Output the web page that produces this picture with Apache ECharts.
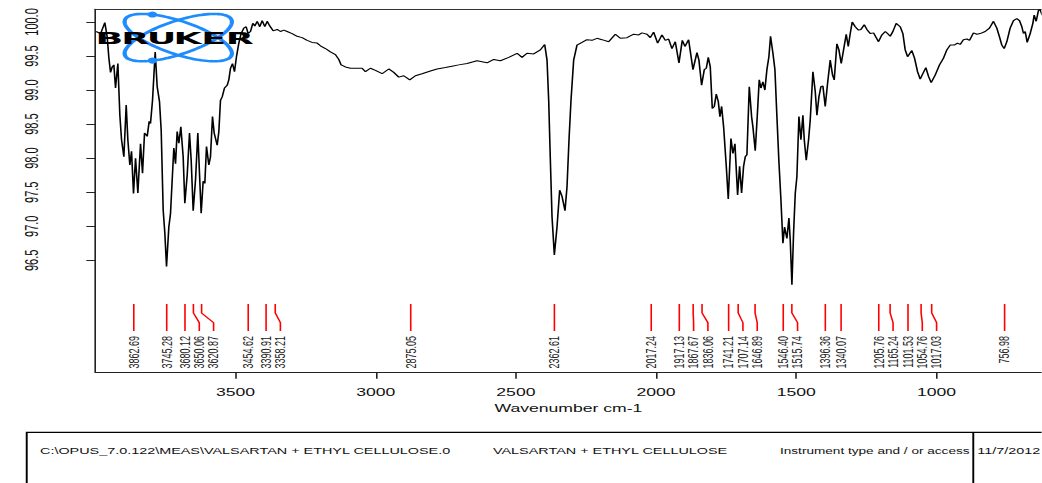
<!DOCTYPE html>
<html>
<head>
<meta charset="utf-8">
<script src="https://cdn.jsdelivr.net/npm/echarts/dist/echarts.min.js"></script>
<style>
html,body{margin:0;padding:0;overflow:hidden;background:#fff;width:1042px;height:483px;}
/* the reference printout is stretched horizontally; draw at 1/1.6 width and stretch */
#main{width:651.25px;height:483px;transform:scaleX(1.6);transform-origin:0 0;}
</style>
</head>
<body>
<div id="main"></div>
<script>
// ---------------- data ----------------
const wavenumber = [
  3997, 3981, 3966, 3957.5, 3951.6, 3945.7, 3939.7, 3933.8, 3927.9, 3919.5,
  3912.4, 3906.4, 3898.1, 3889.8, 3883.9, 3876.8, 3870.8, 3863.7, 3856.5, 3848.2,
  3838.7, 3831.6, 3824.4, 3814.9, 3807.8, 3803.1, 3795.9, 3791.2, 3786.4, 3779.3,
  3771.0, 3765.0, 3757.9, 3752.0, 3746.0, 3737.7, 3731.7, 3725.8, 3719.9, 3713.9,
  3708.0, 3702.0, 3694.9, 3686.6, 3680.7, 3672.3, 3664.0, 3658.0, 3650.9, 3642.6,
  3634.3, 3628.4, 3622.4, 3615.3, 3609.4, 3603.4, 3595.1, 3589.2, 3582.0, 3576.0,
  3571.3, 3565.3, 3559.4, 3553.5, 3547.5, 3539.2, 3529.7, 3523.8, 3517.8, 3510.7,
  3503.6, 3496.5, 3488.1, 3479.8, 3470.3, 3462.0, 3454.8, 3446.5, 3438.2, 3431.1,
  3422.8, 3413.3, 3404.9, 3395.4, 3387.1, 3377.6, 3365.6, 3351.4, 3339.6, 3327.7,
  3315.8, 3298.0, 3280.1, 3262.3, 3244.5, 3226.7, 3208.9, 3197.0, 3179.2, 3161.4,
  3143.5, 3131.7, 3123.3, 3107.9,
  3090, 3066.3, 3048.4, 3036.6, 3018.7, 3000.9, 2977.1, 2953.4, 2935.5, 2917.7,
  2899.9, 2878.5, 2858.3, 2834.5, 2804.8, 2781.1, 2751.4, 2727.6, 2703.8, 2674.1,
  2638.5, 2602.8, 2578.9, 2555.3, 2525.4, 2495.6, 2478.0, 2460.2, 2436.5, 2412.7,
  2397.2, 2388.9, 2383.0, 2377.0, 2371.1, 2362.8, 2353.3, 2343.8, 2335.4, 2324.8,
  2317.6, 2310.5, 2303.4, 2293.9, 2282.0, 2264.2, 2246.4, 2228.5, 2210.7, 2192.9,
  2169.1, 2145.3, 2127.5,
  2103.7, 2079.9, 2062.1, 2050.2, 2032.4, 2020.6, 2008.7, 1994.4, 1979.0, 1967.1,
  1955.3, 1943.4, 1931.5, 1918.4, 1906.5, 1897.0, 1883.9, 1868.4, 1854.2, 1847.1,
  1837.6, 1828.0, 1820.9, 1813.8, 1806.7, 1799.5, 1792.4, 1785.3, 1778.1, 1772.2,
  1766.2, 1759.1, 1749.6, 1742.5, 1733.0, 1725.9, 1718.7, 1709.2, 1702.1, 1695.0,
  1687.9, 1681.9, 1676.0, 1667.6, 1659.3, 1654.6, 1646.3, 1639.2, 1632.1, 1626.1,
  1619.0, 1611.9, 1604.7, 1597.6, 1591.7, 1583.2, 1576.1, 1569.0, 1561.9, 1554.7,
  1547.6, 1541.7, 1533.4, 1526.2, 1521.5, 1515.5, 1509.6, 1503.6, 1497.7, 1490.5,
  1483.4, 1476.3, 1471.5, 1464.4, 1456.1, 1450.2, 1440.6, 1432.3, 1426.3, 1419.2,
  1412.1, 1405.0, 1396.7, 1388.3, 1378.9, 1370.5, 1364.6, 1355.1, 1347.9, 1339.6,
  1331.3, 1321.8, 1314.6, 1307.5, 1300.4, 1289.7, 1277.8, 1269.5, 1257.6, 1248.1,
  1236.3, 1224.4, 1206.6, 1194.7, 1182.5,
  1174.4, 1164.9, 1155.4, 1143.6, 1129.3, 1119.8, 1111.5, 1103.1, 1087.7, 1078.2,
  1067.5, 1058.0, 1048.5, 1037.8, 1028.3, 1018.8, 1004.6, 989.1, 974.9, 963.0,
  951.1, 936.8, 925.0, 915.4, 903.6, 891.7, 882.1, 867.9, 856.0, 844.1,
  826.3, 810.9, 796.6, 784.7, 775.2, 766.9, 758.5, 749.0, 737.2, 725.3,
  713.4, 703.9, 695.5, 689.6, 683.5, 676.4, 665.8, 656.2, 651.5, 644.4,
  636.1, 630.1, 623.0
];
const transmittance = [
  99.86, 99.83, 99.99, 99.78, 99.47, 99.26, 99.34, 99.37, 99.03, 99.39,
  98.63, 98.27, 98.02, 98.78, 98.27, 97.90, 98.10, 97.48, 98.00, 97.49,
  98.21, 97.78, 98.37, 98.32, 98.54, 98.51, 98.85, 99.20, 99.56, 99.05,
  98.83, 98.41, 97.24, 96.90, 96.41, 96.99, 97.19, 97.68, 98.15, 97.92,
  98.39, 98.22, 98.46, 98.02, 97.34, 97.75, 98.37, 97.97, 97.23, 97.68,
  98.37, 97.78, 97.19, 97.66, 97.63, 98.17, 97.90, 98.02, 98.61, 98.37,
  98.29, 98.19, 98.39, 98.85, 98.90, 99.03, 99.07, 99.15, 99.32, 99.39,
  99.27, 99.49, 99.69, 99.83, 99.91, 99.93, 99.83, 99.86, 99.98, 99.94,
  100.01, 99.93, 100.02, 99.93, 100.01, 99.94, 99.87, 99.89, 99.86, 99.88,
  99.86, 99.83, 99.79, 99.77, 99.73, 99.70, 99.69, 99.65, 99.61, 99.56,
  99.52, 99.45, 99.37, 99.34,
  99.32, 99.32, 99.32, 99.27, 99.32, 99.29, 99.24, 99.31, 99.26, 99.19,
  99.21, 99.15, 99.21, 99.24, 99.28, 99.31, 99.33, 99.35, 99.37, 99.39,
  99.43, 99.40, 99.45, 99.43, 99.48, 99.54, 99.48, 99.54, 99.53, 99.59,
  99.67, 99.44, 98.85, 97.97, 97.14, 96.58, 96.99, 97.53, 97.44, 97.23,
  97.58, 98.27, 98.85, 99.44, 99.66, 99.70, 99.74, 99.73, 99.76, 99.74,
  99.71, 99.82, 99.76,
  99.77, 99.82, 99.81, 99.84, 99.82, 99.77, 99.85, 99.69, 99.81, 99.73,
  99.75, 99.61, 99.71, 99.40, 99.73, 99.64, 99.74, 99.30, 99.55, 99.44,
  99.07, 99.30, 99.32, 99.48, 99.34, 98.73, 98.76, 98.94, 98.83, 98.61,
  98.76, 98.46, 97.88, 97.40, 98.29, 98.07, 98.21, 97.46, 97.88, 97.49,
  97.88, 98.02, 98.05, 99.05, 98.61, 98.46, 98.11, 98.61, 99.15, 99.03,
  99.12, 99.00, 99.30, 99.49, 99.79, 99.54, 99.30, 98.61, 97.95, 97.39,
  96.75, 96.99, 96.82, 97.12, 96.80, 96.14, 96.90, 97.48, 97.73, 98.61,
  98.27, 98.63, 98.27, 97.97, 98.27, 98.56, 99.27, 98.98, 98.63, 98.90,
  99.05, 99.06, 98.76, 99.10, 99.44, 99.22, 99.15, 99.68, 99.59, 99.39,
  99.59, 99.82, 99.64, 99.83, 100.00, 99.93, 99.88, 99.89, 99.96, 99.89,
  99.83, 99.84, 99.71, 99.81, 99.86,
  99.83, 99.79, 99.86, 99.98, 99.93, 99.83, 99.59, 99.49, 99.58, 99.47,
  99.27, 99.16, 99.24, 99.33, 99.20, 99.11, 99.22, 99.37, 99.47, 99.59,
  99.66, 99.66, 99.69, 99.67, 99.74, 99.75, 99.73, 99.84, 99.82, 99.83,
  99.86, 99.91, 100.01, 99.91, 99.78, 99.66, 99.61, 99.71, 99.91, 100.02,
  100.05, 100.02, 99.93, 99.83, 99.86, 99.70, 99.83, 99.98, 100.10, 100.01,
  100.17, 100.18, 100.10
];
const peakWavenumbers = [
  3862.69, 3745.28, 3680.12, 3650.06, 3620.87, 3454.62, 3390.91, 3358.21,
  2875.05, 2362.61, 2017.24, 1917.13, 1867.67, 1836.06, 1741.21, 1707.14,
  1646.89, 1546.40, 1515.74, 1396.36, 1340.07, 1205.76, 1165.24, 1101.53,
  1054.76, 1017.03, 756.98
];
const xTickValues = [3500, 3000, 2500, 2000, 1500, 1000];
const yTickValues = [96.5, 97.0, 97.5, 98.0, 98.5, 99.0, 99.5, 100.0];
const footerTexts = [
  'C:\\OPUS_7.0.122\\MEAS\\VALSARTAN + ETHYL CELLULOSE.0',
  'VALSARTAN + ETHYL CELLULOSE',
  'Instrument type and / or access',
  '11/7/2012'
];
const logoLetters = ['B', 'R', 'U', 'K', 'E', 'R'];

// ---------------- layout / style ----------------
const X_MIN = 625, X_MAX = 4000, Y_MIN = 94.856, Y_MAX = 100.186;
const FONT = '"Liberation Sans", Arial, Helvetica, sans-serif';
const LABEL_GAP = 8.94;   // min spacing of peak labels (unstretched px)

const spectrum = wavenumber.map((w, i) => [w, transmittance[i]]);

// Bruker logo geometry (decoration)
const LOGO = { cx: 111.4, cy: 37.6, a: 38, b: 15.5, phi: 31 * Math.PI / 180, dotDx: -16 };
function ellipsePt(t) {
  const c = Math.cos(LOGO.phi), s = Math.sin(LOGO.phi);
  const ex = LOGO.a * Math.cos(t), ey = LOGO.b * Math.sin(t);
  return [ex * c - ey * s, ex * s + ey * c];
}
function ellipsePoints(flip) {
  const pts = [];
  for (let k = 0; k < 120; k++) {
    const p = ellipsePt(k / 120 * Math.PI * 2);
    pts.push([LOGO.cx + p[0], LOGO.cy + (flip ? -p[1] : p[1])]);
  }
  return pts;
}
function dotPoint() {
  // point on the upper arc of the ellipse at the requested horizontal offset
  let best = null;
  for (let k = 0; k < 720; k++) {
    const p = ellipsePt(k / 720 * Math.PI * 2);
    if (p[1] > 0) continue;
    if (!best || Math.abs(p[0] - LOGO.dotDx) + p[1] * 0.02 < Math.abs(best[0] - LOGO.dotDx) + best[1] * 0.02) best = p;
  }
  return best;
}
const tp = dotPoint();
const LOGO_BLUE = '#1e8cff';

const graphics = [
  { type: 'polygon', z: 100, shape: { points: ellipsePoints(false) }, style: { fill: 'none', stroke: LOGO_BLUE, lineWidth: 2.6 } },
  { type: 'polygon', z: 100, shape: { points: ellipsePoints(true) }, style: { fill: 'none', stroke: LOGO_BLUE, lineWidth: 2.6 } },
  { type: 'circle', z: 101, shape: { cx: LOGO.cx + tp[0], cy: LOGO.cy + tp[1], r: 3 }, style: { fill: LOGO_BLUE } },
  { type: 'circle', z: 101, shape: { cx: LOGO.cx + tp[0], cy: LOGO.cy - tp[1], r: 3 }, style: { fill: LOGO_BLUE } }
];
logoLetters.forEach((ch, i) => {
  graphics.push({
    type: 'text', z: 102, x: 68.3 + i * 16.3, y: 38.6, scaleX: 1.38,
    style: { text: ch, fill: '#000', align: 'center', verticalAlign: 'middle',
      font: 'bold 16.5px "DejaVu Sans", sans-serif' }
  });
});
// footer box
graphics.push({ type: 'rect', z: 50, shape: { x: 16.7, y: 432.3, width: 700, height: 100 },
  style: { fill: 'none', stroke: '#000', lineWidth: 1.2 } });
graphics.push({ type: 'line', z: 50, shape: { x1: 608.3, y1: 432.3, x2: 608.3, y2: 500 },
  style: { stroke: '#000', lineWidth: 1.2 } });
const footerX = [25, 308.1, 487.5, 610.8];
const footerSize = [9, 9, 8.5, 9];
footerTexts.forEach((t, i) => {
  graphics.push({ type: 'text', z: 51, x: footerX[i], y: 451,
    style: { text: t, fill: '#111', align: 'left', verticalAlign: 'middle',
      fontSize: footerSize[i], fontFamily: FONT } });
});

const chart = echarts.init(document.getElementById('main'), null, { renderer: 'svg' });
chart.setOption({
  animation: false,
  backgroundColor: '#fff',
  grid: { left: 59.56, top: 9.3, right: 0, bottom: 110.7, show: false, containLabel: false, outerBoundsMode: 'none' },
  xAxis: [{
    type: 'value', inverse: true, min: X_MIN, max: X_MAX, position: 'bottom',
    axisLine: { show: true, onZero: false, lineStyle: { color: '#222', width: 1 } },
    axisTick: { show: true, length: 6.5, customValues: xTickValues, lineStyle: { color: '#222', width: 1 } },
    axisLabel: { customValues: xTickValues, margin: 14, fontSize: 11, fontFamily: FONT, color: '#111',
      formatter: v => String(Math.round(v)) },
    splitLine: { show: false },
    name: 'Wavenumber cm-1', nameLocation: 'middle', nameGap: 30,
    nameTextStyle: { fontSize: 11, fontFamily: FONT, color: '#111' }
  }, {
    type: 'value', inverse: true, min: X_MIN, max: X_MAX, position: 'top',
    axisLine: { show: true, onZero: false, lineStyle: { color: '#333', width: 1 } },
    axisTick: { show: false }, axisLabel: { show: false }, splitLine: { show: false }
  }],
  yAxis: {
    type: 'value', min: Y_MIN, max: Y_MAX,
    axisLine: { show: true, onZero: false, lineStyle: { color: '#222', width: 1 } },
    axisTick: { show: true, length: 5.6, customValues: yTickValues, lineStyle: { color: '#222', width: 1 } },
    axisLabel: { customValues: yTickValues, rotate: 90, margin: 34, fontSize: 11, fontFamily: FONT, color: '#111',
      formatter: v => Number(v).toFixed(1) },
    splitLine: { show: false }
  },
  series: [{
    type: 'line', data: spectrum, showSymbol: false, symbol: 'none', smooth: false,
    lineStyle: { color: '#000', width: 1 }, silent: true, z: 3
  }, {
    type: 'custom', silent: true, clip: false, z: 4,
    data: peakWavenumbers.map(v => [v, Y_MIN]),
    encode: { x: 0, y: 1 },
    renderItem: function (params, api) {
      const cs = params.coordSys;
      const bottom = cs.y + cs.height;
      const xs = peakWavenumbers.map(v => api.coord([v, Y_MIN])[0]);
      const lx = [];
      for (let i = 0; i < xs.length; i++) {
        lx[i] = i === 0 ? xs[i] : Math.max(xs[i], lx[i - 1] + LABEL_GAP);
      }
      const i = params.dataIndex;
      const x0 = xs[i], x1 = lx[i];
      const yTop = bottom - 68.3, yB1 = bottom - 59.3, yB2 = bottom - 49.6, yBot = bottom - 41.3, yText = bottom - 36.3;
      const pts = Math.abs(x1 - x0) < 0.2
        ? [[x0, yTop], [x0, yBot]]
        : [[x0, yTop], [x0, yB1], [x1, yB2], [x1, yBot]];
      return {
        type: 'group',
        children: [
          { type: 'polyline', shape: { points: pts }, style: { stroke: '#ff0000', lineWidth: 1, fill: null } },
          { type: 'text', x: x1, y: yText, rotation: Math.PI / 2,
            style: { text: peakWavenumbers[i].toFixed(2), x: 0, y: 0, align: 'right', verticalAlign: 'middle',
              fontSize: 9, fontFamily: FONT, fill: '#222' } }
        ]
      };
    }
  }],
  graphic: graphics
});
</script>
</body>
</html>
